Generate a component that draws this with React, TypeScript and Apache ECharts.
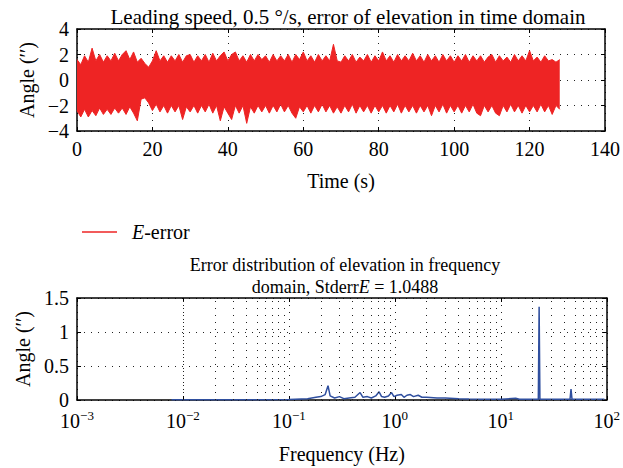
import React, { useEffect, useRef } from "react";
import * as echarts from "echarts";

// ---- Top chart: time-domain error envelope (sampled every 1 s, t = 0..128 s) ----
const timeStep = 1;
const upperEnvelope = [
  1.6, 1.2, 1.9, 1.4, 2.5, 1.5, 2.0, 1.4, 1.9, 1.5,
  2.1, 1.5, 2.0, 2.3, 1.6, 2.2, 1.4, 1.7, 1.3, 1.0,
  1.5, 2.3, 1.5, 1.9, 1.4, 1.9, 1.5, 2.0, 1.4, 1.9,
  2.0, 1.4, 1.9, 1.5, 2.0, 1.4, 2.1, 1.5, 1.9, 2.2,
  1.5, 2.0, 2.2, 1.5, 1.9, 1.4, 2.0, 1.5, 2.0, 1.6,
  1.9, 1.4, 2.0, 1.5, 1.9, 1.5, 2.0, 1.4, 2.0, 1.6,
  2.2, 1.5, 1.9, 1.4, 2.0, 1.5, 1.9, 1.5, 2.8, 1.5,
  1.4, 1.9, 1.5, 2.0, 1.4, 1.8, 1.5, 2.0, 1.4, 1.9,
  1.5, 2.2, 1.5, 1.9, 1.4, 2.0, 1.5, 1.9, 1.5, 2.1,
  1.5, 1.9, 1.4, 2.0, 1.5, 1.9, 1.4, 2.0, 1.5, 1.9,
  1.4, 1.9, 1.5, 2.0, 1.4, 1.9, 1.5, 1.9, 1.4, 1.8,
  2.0, 1.4, 1.9, 1.5, 1.8, 1.4, 2.0, 1.5, 1.9, 1.5,
  2.3, 1.5, 1.8, 1.4, 1.9, 1.5, 1.6, 1.4, 1.6,
];
const lowerEnvelope = [
  -2.4, -2.9, -2.3, -2.9, -2.4, -2.8, -2.2, -2.7, -2.3, -2.7,
  -2.2, -2.6, -2.2, -2.7, -2.1, -2.6, -3.2, -1.5, -1.4, -1.8,
  -2.4, -1.9, -2.5, -2.0, -2.6, -2.0, -2.5, -2.0, -3.1, -2.1,
  -2.5, -2.0, -2.6, -2.0, -2.5, -1.9, -2.6, -2.0, -3.2, -2.1,
  -2.6, -3.1, -2.0, -2.6, -2.0, -3.4, -2.1, -2.6, -2.0, -2.5,
  -2.0, -2.6, -2.0, -2.5, -1.9, -2.5, -2.0, -2.6, -3.0, -2.1,
  -2.5, -2.0, -2.6, -2.0, -2.5, -1.9, -2.5, -2.0, -2.6, -2.1,
  -2.6, -2.0, -2.5, -1.9, -2.6, -2.0, -2.5, -2.0, -2.6, -2.0,
  -2.5, -2.0, -2.6, -2.0, -2.5, -1.9, -2.6, -2.0, -2.5, -2.0,
  -2.6, -2.0, -2.5, -2.0, -2.8, -2.0, -2.5, -1.9, -2.6, -2.0,
  -2.5, -2.0, -2.6, -2.0, -2.5, -1.9, -2.6, -2.8, -2.0, -2.5,
  -2.0, -2.6, -2.8, -2.0, -2.5, -1.9, -2.5, -2.0, -2.6, -2.0,
  -2.5, -2.0, -2.5, -1.9, -2.5, -2.0, -2.7, -2.0, -2.3,
];

// ---- Bottom chart: spectrum ----
const freqHz = [
  0.0078, 0.05, 0.1, 0.15, 0.18, 0.2, 0.22, 0.234, 0.245, 0.27,
  0.3, 0.33, 0.37, 0.42, 0.47, 0.5, 0.55, 0.6, 0.66, 0.71,
  0.75, 0.8, 0.87, 0.93, 0.98, 1.05, 1.15, 1.22, 1.3, 1.4,
  1.5, 1.66, 1.8, 2.0, 2.5, 3.0, 4.0, 5.0, 7.0, 10,
  13.8, 15, 20, 22.6, 23, 23.4, 30, 40, 45, 46,
  47, 60, 95,
];
const amplitude = [
  0.005, 0.005, 0.008, 0.02, 0.04, 0.05, 0.08, 0.21, 0.06, 0.03,
  0.05, 0.02, 0.03, 0.04, 0.11, 0.04, 0.05, 0.03, 0.06, 0.12,
  0.05, 0.04, 0.06, 0.11, 0.05, 0.07, 0.08, 0.04, 0.07, 0.08,
  0.05, 0.07, 0.04, 0.04, 0.03, 0.03, 0.02, 0.015, 0.01, 0.01,
  0.025, 0.01, 0.01, 0.01, 1.37, 0.01, 0.01, 0.01, 0.01, 0.16,
  0.01, 0.01, 0.01,
];
const minorFreqs = [
  0.002, 0.003, 0.004, 0.005, 0.006, 0.007, 0.008, 0.009,
  0.02, 0.03, 0.04, 0.05, 0.06, 0.07, 0.08, 0.09,
  0.2, 0.3, 0.4, 0.5, 0.6, 0.7, 0.8, 0.9,
  2, 3, 4, 5, 6, 7, 8, 9,
  20, 30, 40, 50, 60, 70, 80, 90,
];

const FONT = "Liberation Serif";
const RED = "#ee2424";
const BLUE = "#2f4f9f";
const TICK_FS = 20;
const NAME_FS = 20;

const minus = (v: number) => (v < 0 ? "\u2212" + Math.abs(v) : String(v));

export default function App() {
  const ref = useRef<HTMLDivElement>(null);
  useEffect(() => {
    if (!ref.current) return;
    const chart = echarts.init(ref.current, undefined, { renderer: "svg" });
    const upperData = upperEnvelope.map((v, i) => [i * timeStep, v]);
    const lowerData = lowerEnvelope.map((v, i) => [i * timeStep, v]);
    const specData = freqHz.map((f, i) => [f, amplitude[i]]);

    const axisLine = { show: true, onZero: false, lineStyle: { color: "#000", width: 1.5 } };
    const dotted = { show: true, lineStyle: { color: "#222", width: 1, type: [1, 6] as any } };
    const tick = { show: true, inside: true, length: 4, lineStyle: { color: "#000", width: 1 } };
    const label = { color: "#000", fontFamily: FONT, fontSize: TICK_FS };
    const nameStyle = { fontFamily: FONT, fontSize: NAME_FS, color: "#000" };
    const titleStyle = { fontFamily: FONT, fontSize: 18, fontWeight: "normal", color: "#000" };

    chart.setOption({
      animation: false,
      textStyle: { fontFamily: FONT, color: "#000" },
      title: [
        {
          text: "Leading speed, 0.5 \u00b0/s, error of elevation in time domain",
          left: 343,
          textAlign: "center",
          top: 1,
          textStyle: { ...titleStyle, fontSize: 21 },
        },
        {
          text: "Error distribution of elevation in frequency",
          left: 345,
          textAlign: "center",
          top: 256,
          padding: 0,
          textStyle: titleStyle,
        },
        {
          text: "{a|domain, Stderr}{i|E}{a| = 1.0488}",
          left: 345,
          textAlign: "center",
          top: 278,
          padding: 0,
          textStyle: {
            ...titleStyle,
            rich: {
              a: { fontFamily: FONT, fontSize: 18, color: "#000" },
              i: { fontFamily: FONT, fontSize: 18, color: "#000", fontStyle: "italic" },
            },
          },
        },
      ],
      legend: {
        left: 77,
        top: 217,
        data: [{ name: "E-error", icon: "rect" }],
        itemWidth: 35,
        itemHeight: 1.5,
        formatter: () => "{i|E}-error",
        textStyle: {
          fontFamily: FONT,
          fontSize: 20,
          color: "#000",
          padding: [0, 0, 0, 10],
          rich: {
            i: { fontFamily: FONT, fontSize: 20, fontStyle: "italic", color: "#000" },
          },
        },
      },
      grid: [
        { left: 77, top: 29, width: 531, height: 102 },
        { left: 77, top: 298, width: 531, height: 102 },
      ],
      xAxis: [
        {
          type: "value",
          gridIndex: 0,
          min: 0,
          max: 140,
          interval: 20,
          name: "Time (s)",
          nameLocation: "middle",
          nameGap: 40,
          nameTextStyle: nameStyle,
          axisLine,
          axisTick: tick,
          axisLabel: { ...label, margin: 8 },
          splitLine: dotted,
        },
        {
          type: "value",
          gridIndex: 0,
          position: "top",
          min: 0,
          max: 140,
          interval: 20,
          axisLine,
          axisTick: tick,
          axisLabel: { show: false },
          splitLine: { show: false },
        },
        {
          type: "log",
          logBase: 10,
          gridIndex: 1,
          min: 0.001,
          max: 100,
          name: "Frequency (Hz)",
          nameLocation: "middle",
          nameGap: 44,
          nameTextStyle: nameStyle,
          axisLine,
          axisTick: tick,
          axisLabel: {
            ...label,
            margin: 9,
            formatter: (v: number) => "10{s|" + minus(Math.round(Math.log10(v))) + "}",
            rich: {
              s: { fontFamily: FONT, fontSize: 13, color: "#000", verticalAlign: "top", padding: [0, 0, 10, 0] },
            },
          },
          splitLine: dotted,
        },
        {
          type: "log",
          logBase: 10,
          gridIndex: 1,
          position: "top",
          min: 0.001,
          max: 100,
          axisLine,
          axisTick: tick,
          axisLabel: { show: false },
          splitLine: { show: false },
        },
      ],
      yAxis: [
        {
          type: "value",
          gridIndex: 0,
          min: -4,
          max: 4,
          interval: 2,
          name: "Angle (\u2032\u2032)",
          nameLocation: "middle",
          nameGap: 36,
          nameTextStyle: nameStyle,
          axisLine,
          axisTick: tick,
          axisLabel: { ...label, margin: 8, formatter: (v: number) => minus(v) },
          splitLine: dotted,
        },
        {
          type: "value",
          gridIndex: 0,
          position: "right",
          min: -4,
          max: 4,
          interval: 2,
          axisLine,
          axisTick: tick,
          axisLabel: { show: false },
          splitLine: { show: false },
        },
        {
          type: "value",
          gridIndex: 1,
          min: 0,
          max: 1.5,
          interval: 0.5,
          name: "Angle (\u2032\u2032)",
          nameLocation: "middle",
          nameGap: 36,
          nameTextStyle: nameStyle,
          axisLine,
          axisTick: tick,
          axisLabel: { ...label, margin: 8 },
          splitLine: dotted,
        },
        {
          type: "value",
          gridIndex: 1,
          position: "right",
          min: 0,
          max: 1.5,
          interval: 0.5,
          axisLine,
          axisTick: tick,
          axisLabel: { show: false },
          splitLine: { show: false },
        },
      ],
      series: [
        {
          name: "E-error",
          type: "line",
          xAxisIndex: 0,
          yAxisIndex: 0,
          data: upperData,
          showSymbol: false,
          symbol: "none",
          color: RED,
          lineStyle: { color: RED, width: 1 },
          areaStyle: { color: RED, opacity: 1 },
        },
        {
          name: "E-error",
          type: "line",
          xAxisIndex: 0,
          yAxisIndex: 0,
          data: lowerData,
          showSymbol: false,
          symbol: "none",
          color: RED,
          lineStyle: { color: RED, width: 1 },
          areaStyle: { color: RED, opacity: 1 },
        },
        {
          name: "spectrum",
          type: "line",
          xAxisIndex: 2,
          yAxisIndex: 2,
          data: specData,
          showSymbol: false,
          symbol: "none",
          color: BLUE,
          lineStyle: { color: BLUE, width: 1.5 },
          markLine: {
            silent: true,
            symbol: "none",
            label: { show: false },
            lineStyle: { color: "#222", width: 1, type: [1, 6] as any },
            data: minorFreqs.map((f) => ({ xAxis: f })),
          },
          z: 3,
        },
      ],
    });
    return () => chart.dispose();
  }, []);
  return (
    <div
      ref={ref}
      style={{ position: "fixed", left: 0, top: 0, width: 623, height: 468, background: "#fff" }}
    />
  );
}
